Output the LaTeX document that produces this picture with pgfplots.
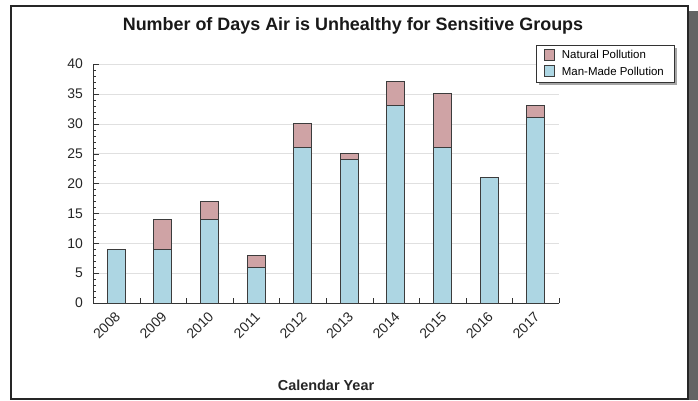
\documentclass[border=0pt]{standalone}
\usepackage{pgfplots}
\pgfplotsset{compat=1.18}
\usepackage{fontspec}
\setmainfont{Liberation Sans}
\definecolor{manmade}{RGB}{173,214,227}
\definecolor{natural}{RGB}{207,163,165}
\definecolor{baredge}{RGB}{60,60,60}
\definecolor{shadow}{RGB}{100,100,100}
\pgfdeclarelayer{background}
\pgfsetlayers{background,main}
\begin{document}
\begin{tikzpicture}[x=1bp,y=1bp]
% page = 698 x 400 px, 1 px = 1 bp, y measured from bottom
\useasboundingbox (0,0) rectangle (698,400);
\fill[shadow] (689,0) rectangle (698,389);
\draw[line width=1.5bp,black!85] (11,1) rectangle (688,394);
\node[font=\bfseries\fontsize{18}{20}\selectfont, text=black!90] at (353,374) {Number of Days Air is Unhealthy for Sensitive Groups};
\node[font=\bfseries\fontsize{14.5}{16}\selectfont, text=black!85] at (326,15) {Calendar Year};
\begin{axis}[
  at={(93bp,97bp)}, anchor=south west,
  scale only axis, width=466bp, height=239bp,
  xmin=-0.5, xmax=9.5, ymin=0, ymax=40,
  axis x line=bottom, axis y line=left,
  axis line style={-, black!80},
  ybar stacked, bar width=18bp,
  xtick={0.5,1.5,...,9.5}, xticklabels={},
  extra x ticks={0,...,9},
  extra x tick labels={2008,2009,2010,2011,2012,2013,2014,2015,2016,2017},
  extra x tick style={major tick length=0bp, grid=none},
  ytick={0,5,...,40}, minor ytick={0,1,...,40},
  tick align=inside,
  major tick length=5.5bp, minor tick length=3bp,
  tick style={black!80},
  ymajorgrids, grid style={black!12},
  /pgf/number format/assume math mode=true,
  ticklabel style={font=\fontsize{14}{16}\selectfont, text=black!85},
  xticklabel style={rotate=45, anchor=north east, inner sep=1bp, xshift=-6bp, yshift=-3bp},
  yticklabel style={inner sep=2bp, xshift=-8bp},
  reverse legend,
  legend style={name=leg, at={(1.2468,1.0795)}, anchor=north east,
    font=\fontsize{11.5}{12}\selectfont,
    draw=black!80, fill=white, inner xsep=8bp, inner ysep=3bp, row sep=3bp,
    cells={anchor=west},
    /tikz/every odd column/.style={column sep=5bp}},
  legend cell align=left,
  legend image code/.code={\draw[#1, draw=baredge] (0bp,-5bp) rectangle (10bp,6bp);},
]
\addplot[fill=manmade, draw=baredge, line width=0.9bp] coordinates {
  (0,9) (1,9) (2,14) (3,6) (4,26) (5,24) (6,33) (7,26) (8,21) (9,31)};
\addplot[fill=natural, draw=baredge, line width=0.9bp] coordinates {
  (0,0) (1,5) (2,3) (3,2) (4,4) (5,1) (6,4) (7,9) (8,0) (9,2)};
\legend{Man-Made Pollution, Natural Pollution}
\end{axis}
\begin{pgfonlayer}{background}
\fill[black!35] ([shift={(3bp,-3bp)}]leg.south west) rectangle ([shift={(3bp,-3bp)}]leg.north east);
\end{pgfonlayer}
\end{tikzpicture}
\end{document}
